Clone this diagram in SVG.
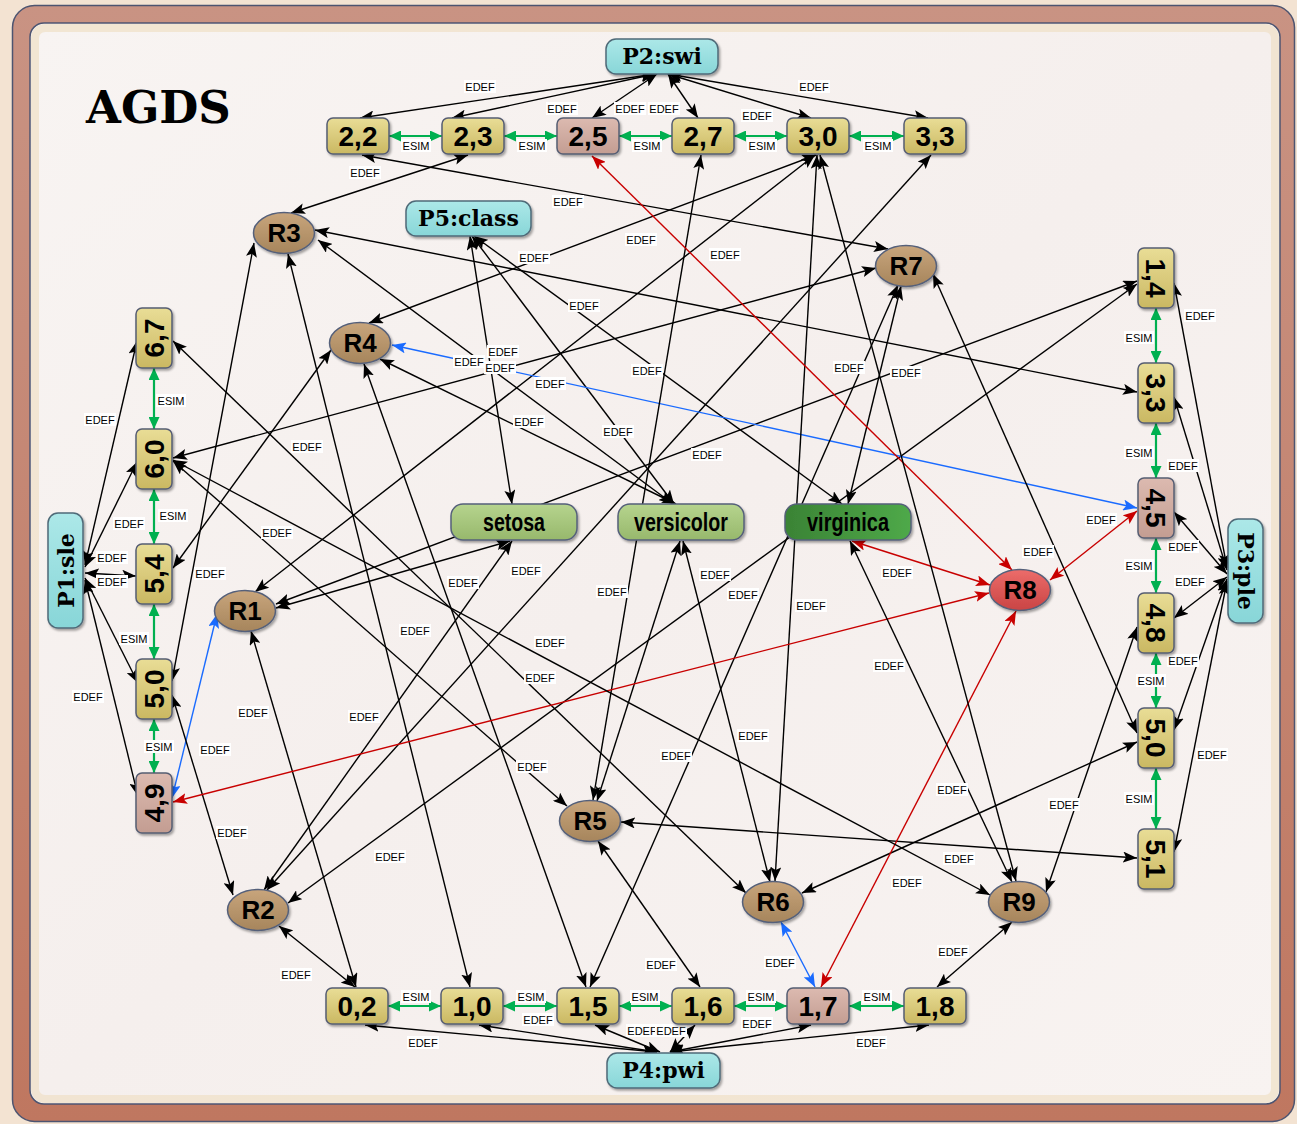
<svg xmlns="http://www.w3.org/2000/svg" width="1297" height="1124" viewBox="0 0 1297 1124">
<defs>
  <linearGradient id="gVal" x1="0" y1="0" x2="0" y2="1">
    <stop offset="0" stop-color="#e9dd96"/><stop offset="1" stop-color="#cab862"/>
  </linearGradient>
  <linearGradient id="gPink" x1="0" y1="0" x2="0" y2="1">
    <stop offset="0" stop-color="#dcbab0"/><stop offset="1" stop-color="#c39d92"/>
  </linearGradient>
  <linearGradient id="gProp" x1="0" y1="0" x2="0" y2="1">
    <stop offset="0" stop-color="#ace8e8"/><stop offset="1" stop-color="#88d6d8"/>
  </linearGradient>
  <linearGradient id="gRec" x1="0" y1="0" x2="0" y2="1">
    <stop offset="0" stop-color="#c8a57c"/><stop offset="1" stop-color="#a6855c"/>
  </linearGradient>
  <linearGradient id="gRed" x1="0" y1="0" x2="0" y2="1">
    <stop offset="0" stop-color="#ec6c6a"/><stop offset="1" stop-color="#c94444"/>
  </linearGradient>
  <linearGradient id="gCls" x1="0" y1="0" x2="0" y2="1">
    <stop offset="0" stop-color="#b6d48e"/><stop offset="1" stop-color="#97b86c"/>
  </linearGradient>
  <linearGradient id="gVir" x1="0" y1="0" x2="1" y2="0">
    <stop offset="0" stop-color="#3a8335"/><stop offset="1" stop-color="#4fa949"/>
  </linearGradient>
  <linearGradient id="gBand" x1="0" y1="0" x2="0" y2="1">
    <stop offset="0" stop-color="#c99383"/><stop offset="1" stop-color="#bf7760"/>
  </linearGradient>
  <linearGradient id="gBg" x1="0" y1="0" x2="1" y2="1">
    <stop offset="0" stop-color="#f8f4f2"/><stop offset="0.5" stop-color="#f5efed"/><stop offset="1" stop-color="#f8f3f1"/>
  </linearGradient>
  <filter id="sh" x="-20%" y="-20%" width="140%" height="150%">
    <feDropShadow dx="1.5" dy="2" stdDeviation="1.2" flood-color="#000" flood-opacity="0.35"/>
  </filter>
  <marker id="mk" viewBox="0 0 14 11" refX="14" refY="5.5" markerWidth="14" markerHeight="11" markerUnits="userSpaceOnUse" orient="auto-start-reverse">
    <path d="M0,0 L14,5.5 L0,11 L3,5.5 Z" fill="#000"/>
  </marker>
  <marker id="mr" viewBox="0 0 14 11" refX="14" refY="5.5" markerWidth="14" markerHeight="11" markerUnits="userSpaceOnUse" orient="auto-start-reverse">
    <path d="M0,0 L14,5.5 L0,11 L3,5.5 Z" fill="#c80000"/>
  </marker>
  <marker id="mb" viewBox="0 0 14 11" refX="14" refY="5.5" markerWidth="14" markerHeight="11" markerUnits="userSpaceOnUse" orient="auto-start-reverse">
    <path d="M0,0 L14,5.5 L0,11 L3,5.5 Z" fill="#1a6bff"/>
  </marker>
  <marker id="mg" viewBox="0 0 12 11" refX="12" refY="5.5" markerWidth="12" markerHeight="11" markerUnits="userSpaceOnUse" orient="auto-start-reverse">
    <path d="M0,0 L12,5.5 L0,11 Z" fill="#00b050"/>
  </marker>
</defs>
<style>
  .e{fill:none;stroke:#000;stroke-width:1.4;marker-start:url(#mk);marker-end:url(#mk)}
  .er{fill:none;stroke:#c80000;stroke-width:1.4;marker-start:url(#mr);marker-end:url(#mr)}
  .eb{fill:none;stroke:#1a6bff;stroke-width:1.4;marker-start:url(#mb);marker-end:url(#mb)}
  .es{fill:none;stroke:#00b050;stroke-width:2.2;marker-start:url(#mg);marker-end:url(#mg)}
  .lb rect{fill:#fff}
  .lb text{font-family:"Liberation Sans",Arial,sans-serif;font-size:11px;text-anchor:middle;fill:#000}
  .val rect{fill:url(#gVal);stroke:#565d72;stroke-width:1.5;filter:url(#sh)}
  .val.pink rect{fill:url(#gPink)}
  .num{font-family:"Liberation Sans",Arial,sans-serif;font-weight:bold;font-size:28px;text-anchor:middle;fill:#000}
  .prop rect{fill:url(#gProp);stroke:#4f6a78;stroke-width:1.5;filter:url(#sh)}
  .pt{font-family:"DejaVu Serif",serif;font-weight:bold;font-size:22px;text-anchor:middle;fill:#000}
  .rec ellipse{fill:url(#gRec);stroke:#55607a;stroke-width:1.5;filter:url(#sh)}
  .rec.hot ellipse{fill:url(#gRed)}
  .rt{font-family:"Liberation Sans",Arial,sans-serif;font-weight:bold;font-size:26px;text-anchor:middle;fill:#000}
  .cls rect{fill:url(#gCls);stroke:#55607a;stroke-width:1.5;filter:url(#sh)}
  .cls.dark rect{fill:url(#gVir)}
  .ct{font-family:"Liberation Sans Narrow","Liberation Sans",Arial,sans-serif;font-weight:bold;font-size:26px;text-anchor:middle;fill:#000}
</style>

<!-- frame -->
<g id="frame">
  <rect x="0" y="0" width="1297" height="1124" fill="#f3e3d2"/>
  <rect x="12.5" y="5.5" width="1282" height="1116" rx="22" fill="url(#gBand)" stroke="#4d5470" stroke-width="1.5"/>
  <rect x="30" y="23" width="1250" height="1081" rx="14" fill="url(#gBg)" stroke="#4d5470" stroke-width="1.5"/>
  <rect x="35" y="28" width="1240" height="1071" rx="10" fill="none" stroke="#f0dfc6" stroke-width="8" opacity="0.7"/>
</g>

<g id="title">
  <text x="86" y="123" font-family="'DejaVu Serif',serif" font-weight="bold" font-size="45" fill="#000">AGDS</text>
</g>

<!-- connectors -->
<g id="connectors">
  <!-- attribute to value -->
  <path class="e" d="M655,74 L360,118"/>
  <path class="e" d="M655,74 L452,118"/>
  <path class="e" d="M657,74 L592,118"/>
  <path class="e" d="M668,74 L698,118"/>
  <path class="e" d="M668,74 L811,118"/>
  <path class="e" d="M668,74 L928,118"/>
  <path class="e" d="M657,1052 L365,1025"/>
  <path class="e" d="M657,1052 L479,1025"/>
  <path class="e" d="M660,1052 L595,1025"/>
  <path class="e" d="M670,1052 L695,1025"/>
  <path class="e" d="M670,1052 L811,1025"/>
  <path class="e" d="M670,1052 L929,1025"/>
  <path class="e" d="M85,565 L137,341"/>
  <path class="e" d="M85,567 L137,462"/>
  <path class="e" d="M85,573 L136,576"/>
  <path class="e" d="M85,578 L138,683"/>
  <path class="e" d="M85,580 L138,796"/>
  <path class="e" d="M1227,568 L1174,283"/>
  <path class="e" d="M1227,570 L1174,397"/>
  <path class="e" d="M1227,574 L1174,512"/>
  <path class="e" d="M1227,577 L1174,618"/>
  <path class="e" d="M1227,579 L1174,730"/>
  <path class="e" d="M1227,581 L1174,852"/>
  <path class="e" d="M470,236 L512,504"/>
  <path class="e" d="M472,236 L674,504"/>
  <path class="e" d="M474,236 L842,504"/>

  <!-- R1 -->
  <path class="eb" d="M217,614 L172,798"/>
  <path class="e" d="M255,592 L815,155"/>
  <path class="e" d="M276,604 L1137,281"/>
  <path class="e" d="M251,631 L356,987"/>
  <path class="e" d="M276,608 L510,541"/>
  <!-- R2 -->
  <path class="e" d="M233,895 L172,695"/>
  <path class="e" d="M267,890 L931,155"/>
  <path class="e" d="M288,903 L1137,284"/>
  <path class="e" d="M264,890 L512,541"/>
  <path class="e" d="M279,926 L355,987"/>
  <!-- R3 -->
  <path class="e" d="M291,213 L468,155"/>
  <path class="e" d="M254,243 L172,681"/>
  <path class="e" d="M288,254 L470,987"/>
  <path class="e" d="M315,230 L1137,392"/>
  <path class="e" d="M318,240 L673,504"/>
  <!-- R4 -->
  <path class="e" d="M331,350 L173,568"/>
  <path class="e" d="M369,323 L816,155"/>
  <path class="e" d="M364,364 L586,987"/>
  <path class="eb" d="M392,345 L1137,508"/>
  <path class="e" d="M380,359 L676,504"/>
  <!-- R5 -->
  <path class="e" d="M567,806 L173,461"/>
  <path class="e" d="M593,800 L701,155"/>
  <path class="e" d="M597,801 L680,541"/>
  <path class="e" d="M621,822 L1137,858"/>
  <path class="e" d="M598,841 L700,987"/>
  <!-- R6 -->
  <path class="e" d="M746,893 L173,341"/>
  <path class="e" d="M775,881 L817,155"/>
  <path class="e" d="M770,882 L683,541"/>
  <path class="e" d="M802,893 L1137,742"/>
  <path class="eb" d="M781,922 L815,987"/>
  <!-- R7 -->
  <path class="e" d="M888,249 L362,155"/>
  <path class="e" d="M876,268 L173,458"/>
  <path class="e" d="M901,286 L848,504"/>
  <path class="e" d="M898,285 L590,987"/>
  <path class="e" d="M933,274 L1137,733"/>
  <!-- R8 -->
  <path class="er" d="M1012,570 L592,156"/>
  <path class="er" d="M989,593 L173,802"/>
  <path class="er" d="M990,585 L852,541"/>
  <path class="er" d="M1050,580 L1137,511"/>
  <path class="er" d="M1016,611 L821,987"/>
  <!-- R9 -->
  <path class="e" d="M990,895 L173,460"/>
  <path class="e" d="M1016,881 L820,155"/>
  <path class="e" d="M1012,882 L850,541"/>
  <path class="e" d="M1046,892 L1137,627"/>
  <path class="e" d="M1012,922 L937,987"/>

  <!-- similarity links -->
  <path class="es" d="M389,136 L442,136"/>
  <path class="es" d="M504,136 L557,136"/>
  <path class="es" d="M619,136 L672,136"/>
  <path class="es" d="M734,136 L787,136"/>
  <path class="es" d="M849,136 L904,136"/>
  <path class="es" d="M388,1006 L441,1006"/>
  <path class="es" d="M503,1006 L557,1006"/>
  <path class="es" d="M619,1006 L672,1006"/>
  <path class="es" d="M734,1006 L787,1006"/>
  <path class="es" d="M849,1006 L904,1006"/>
  <path class="es" d="M154,368 L154,429"/>
  <path class="es" d="M154,489 L154,544"/>
  <path class="es" d="M154,604 L154,659"/>
  <path class="es" d="M154,719 L154,773"/>
  <path class="es" d="M1156,308 L1156,363"/>
  <path class="es" d="M1156,423 L1156,478"/>
  <path class="es" d="M1156,538 L1156,593"/>
  <path class="es" d="M1156,653 L1156,708"/>
  <path class="es" d="M1156,768 L1156,829"/>

  <!-- labels -->
  <g class="lb">
    <g transform="translate(416,146)"><rect x="-15" y="-7" width="30" height="13"/><text y="4">ESIM</text></g>
    <g transform="translate(532,146)"><rect x="-15" y="-7" width="30" height="13"/><text y="4">ESIM</text></g>
    <g transform="translate(647,146)"><rect x="-15" y="-7" width="30" height="13"/><text y="4">ESIM</text></g>
    <g transform="translate(762,146)"><rect x="-15" y="-7" width="30" height="13"/><text y="4">ESIM</text></g>
    <g transform="translate(878,146)"><rect x="-15" y="-7" width="30" height="13"/><text y="4">ESIM</text></g>
    <g transform="translate(416,997)"><rect x="-15" y="-7" width="30" height="13"/><text y="4">ESIM</text></g>
    <g transform="translate(531,997)"><rect x="-15" y="-7" width="30" height="13"/><text y="4">ESIM</text></g>
    <g transform="translate(645,997)"><rect x="-15" y="-7" width="30" height="13"/><text y="4">ESIM</text></g>
    <g transform="translate(761,997)"><rect x="-15" y="-7" width="30" height="13"/><text y="4">ESIM</text></g>
    <g transform="translate(877,997)"><rect x="-15" y="-7" width="30" height="13"/><text y="4">ESIM</text></g>
    <g transform="translate(171,401)"><rect x="-15" y="-7" width="30" height="13"/><text y="4">ESIM</text></g>
    <g transform="translate(173,516)"><rect x="-15" y="-7" width="30" height="13"/><text y="4">ESIM</text></g>
    <g transform="translate(134,639)"><rect x="-15" y="-7" width="30" height="13"/><text y="4">ESIM</text></g>
    <g transform="translate(159,747)"><rect x="-15" y="-7" width="30" height="13"/><text y="4">ESIM</text></g>
    <g transform="translate(1139,338)"><rect x="-15" y="-7" width="30" height="13"/><text y="4">ESIM</text></g>
    <g transform="translate(1139,453)"><rect x="-15" y="-7" width="30" height="13"/><text y="4">ESIM</text></g>
    <g transform="translate(1139,566)"><rect x="-15" y="-7" width="30" height="13"/><text y="4">ESIM</text></g>
    <g transform="translate(1151,681)"><rect x="-15" y="-7" width="30" height="13"/><text y="4">ESIM</text></g>
    <g transform="translate(1139,799)"><rect x="-15" y="-7" width="30" height="13"/><text y="4">ESIM</text></g>

    <g transform="translate(480,87)"><rect x="-16" y="-7" width="32" height="13"/><text y="4">EDEF</text></g>
    <g transform="translate(814,87)"><rect x="-16" y="-7" width="32" height="13"/><text y="4">EDEF</text></g>
    <g transform="translate(562,109)"><rect x="-16" y="-7" width="32" height="13"/><text y="4">EDEF</text></g>
    <g transform="translate(630,109)"><rect x="-16" y="-7" width="32" height="13"/><text y="4">EDEF</text></g>
    <g transform="translate(664,109)"><rect x="-16" y="-7" width="32" height="13"/><text y="4">EDEF</text></g>
    <g transform="translate(757,116)"><rect x="-16" y="-7" width="32" height="13"/><text y="4">EDEF</text></g>
    <g transform="translate(365,173)"><rect x="-16" y="-7" width="32" height="13"/><text y="4">EDEF</text></g>
    <g transform="translate(568,202)"><rect x="-16" y="-7" width="32" height="13"/><text y="4">EDEF</text></g>
    <g transform="translate(641,240)"><rect x="-16" y="-7" width="32" height="13"/><text y="4">EDEF</text></g>
    <g transform="translate(725,255)"><rect x="-16" y="-7" width="32" height="13"/><text y="4">EDEF</text></g>
    <g transform="translate(534,258)"><rect x="-16" y="-7" width="32" height="13"/><text y="4">EDEF</text></g>
    <g transform="translate(584,306)"><rect x="-16" y="-7" width="32" height="13"/><text y="4">EDEF</text></g>
    <g transform="translate(503,352)"><rect x="-16" y="-7" width="32" height="13"/><text y="4">EDEF</text></g>
    <g transform="translate(469,362)"><rect x="-16" y="-7" width="32" height="13"/><text y="4">EDEF</text></g>
    <g transform="translate(500,368)"><rect x="-16" y="-7" width="32" height="13"/><text y="4">EDEF</text></g>
    <g transform="translate(550,384)"><rect x="-16" y="-7" width="32" height="13"/><text y="4">EDEF</text></g>
    <g transform="translate(647,371)"><rect x="-16" y="-7" width="32" height="13"/><text y="4">EDEF</text></g>
    <g transform="translate(849,368)"><rect x="-16" y="-7" width="32" height="13"/><text y="4">EDEF</text></g>
    <g transform="translate(906,373)"><rect x="-16" y="-7" width="32" height="13"/><text y="4">EDEF</text></g>
    <g transform="translate(529,422)"><rect x="-16" y="-7" width="32" height="13"/><text y="4">EDEF</text></g>
    <g transform="translate(618,432)"><rect x="-16" y="-7" width="32" height="13"/><text y="4">EDEF</text></g>
    <g transform="translate(707,455)"><rect x="-16" y="-7" width="32" height="13"/><text y="4">EDEF</text></g>
    <g transform="translate(307,447)"><rect x="-16" y="-7" width="32" height="13"/><text y="4">EDEF</text></g>
    <g transform="translate(100,420)"><rect x="-16" y="-7" width="32" height="13"/><text y="4">EDEF</text></g>
    <g transform="translate(129,524)"><rect x="-16" y="-7" width="32" height="13"/><text y="4">EDEF</text></g>
    <g transform="translate(112,558)"><rect x="-16" y="-7" width="32" height="13"/><text y="4">EDEF</text></g>
    <g transform="translate(112,582)"><rect x="-16" y="-7" width="32" height="13"/><text y="4">EDEF</text></g>
    <g transform="translate(277,533)"><rect x="-16" y="-7" width="32" height="13"/><text y="4">EDEF</text></g>
    <g transform="translate(210,574)"><rect x="-16" y="-7" width="32" height="13"/><text y="4">EDEF</text></g>
    <g transform="translate(88,697)"><rect x="-16" y="-7" width="32" height="13"/><text y="4">EDEF</text></g>
    <g transform="translate(463,583)"><rect x="-16" y="-7" width="32" height="13"/><text y="4">EDEF</text></g>
    <g transform="translate(526,571)"><rect x="-16" y="-7" width="32" height="13"/><text y="4">EDEF</text></g>
    <g transform="translate(612,592)"><rect x="-16" y="-7" width="32" height="13"/><text y="4">EDEF</text></g>
    <g transform="translate(715,575)"><rect x="-16" y="-7" width="32" height="13"/><text y="4">EDEF</text></g>
    <g transform="translate(743,595)"><rect x="-16" y="-7" width="32" height="13"/><text y="4">EDEF</text></g>
    <g transform="translate(811,606)"><rect x="-16" y="-7" width="32" height="13"/><text y="4">EDEF</text></g>
    <g transform="translate(897,573)"><rect x="-16" y="-7" width="32" height="13"/><text y="4">EDEF</text></g>
    <g transform="translate(1038,552)"><rect x="-16" y="-7" width="32" height="13"/><text y="4">EDEF</text></g>
    <g transform="translate(1101,520)"><rect x="-16" y="-7" width="32" height="13"/><text y="4">EDEF</text></g>
    <g transform="translate(1200,316)"><rect x="-16" y="-7" width="32" height="13"/><text y="4">EDEF</text></g>
    <g transform="translate(1183,466)"><rect x="-16" y="-7" width="32" height="13"/><text y="4">EDEF</text></g>
    <g transform="translate(1183,547)"><rect x="-16" y="-7" width="32" height="13"/><text y="4">EDEF</text></g>
    <g transform="translate(1190,582)"><rect x="-16" y="-7" width="32" height="13"/><text y="4">EDEF</text></g>
    <g transform="translate(1183,661)"><rect x="-16" y="-7" width="32" height="13"/><text y="4">EDEF</text></g>
    <g transform="translate(1212,755)"><rect x="-16" y="-7" width="32" height="13"/><text y="4">EDEF</text></g>
    <g transform="translate(415,631)"><rect x="-16" y="-7" width="32" height="13"/><text y="4">EDEF</text></g>
    <g transform="translate(550,643)"><rect x="-16" y="-7" width="32" height="13"/><text y="4">EDEF</text></g>
    <g transform="translate(540,678)"><rect x="-16" y="-7" width="32" height="13"/><text y="4">EDEF</text></g>
    <g transform="translate(889,666)"><rect x="-16" y="-7" width="32" height="13"/><text y="4">EDEF</text></g>
    <g transform="translate(253,713)"><rect x="-16" y="-7" width="32" height="13"/><text y="4">EDEF</text></g>
    <g transform="translate(364,717)"><rect x="-16" y="-7" width="32" height="13"/><text y="4">EDEF</text></g>
    <g transform="translate(215,750)"><rect x="-16" y="-7" width="32" height="13"/><text y="4">EDEF</text></g>
    <g transform="translate(676,756)"><rect x="-16" y="-7" width="32" height="13"/><text y="4">EDEF</text></g>
    <g transform="translate(753,736)"><rect x="-16" y="-7" width="32" height="13"/><text y="4">EDEF</text></g>
    <g transform="translate(532,767)"><rect x="-16" y="-7" width="32" height="13"/><text y="4">EDEF</text></g>
    <g transform="translate(952,790)"><rect x="-16" y="-7" width="32" height="13"/><text y="4">EDEF</text></g>
    <g transform="translate(1064,805)"><rect x="-16" y="-7" width="32" height="13"/><text y="4">EDEF</text></g>
    <g transform="translate(232,833)"><rect x="-16" y="-7" width="32" height="13"/><text y="4">EDEF</text></g>
    <g transform="translate(390,857)"><rect x="-16" y="-7" width="32" height="13"/><text y="4">EDEF</text></g>
    <g transform="translate(959,859)"><rect x="-16" y="-7" width="32" height="13"/><text y="4">EDEF</text></g>
    <g transform="translate(907,883)"><rect x="-16" y="-7" width="32" height="13"/><text y="4">EDEF</text></g>
    <g transform="translate(296,975)"><rect x="-16" y="-7" width="32" height="13"/><text y="4">EDEF</text></g>
    <g transform="translate(661,965)"><rect x="-16" y="-7" width="32" height="13"/><text y="4">EDEF</text></g>
    <g transform="translate(780,963)"><rect x="-16" y="-7" width="32" height="13"/><text y="4">EDEF</text></g>
    <g transform="translate(953,952)"><rect x="-16" y="-7" width="32" height="13"/><text y="4">EDEF</text></g>
    <g transform="translate(538,1020)"><rect x="-16" y="-7" width="32" height="13"/><text y="4">EDEF</text></g>
    <g transform="translate(642,1031)"><rect x="-16" y="-7" width="32" height="13"/><text y="4">EDEF</text></g>
    <g transform="translate(671,1031)"><rect x="-16" y="-7" width="32" height="13"/><text y="4">EDEF</text></g>
    <g transform="translate(757,1024)"><rect x="-16" y="-7" width="32" height="13"/><text y="4">EDEF</text></g>
    <g transform="translate(423,1043)"><rect x="-16" y="-7" width="32" height="13"/><text y="4">EDEF</text></g>
    <g transform="translate(871,1043)"><rect x="-16" y="-7" width="32" height="13"/><text y="4">EDEF</text></g>
  </g>
</g>

<!-- attribute nodes -->
<g id="P1-sle" class="prop"><rect x="48" y="513" width="35" height="115" rx="10"/><text class="pt" transform="translate(65.5,570.5) rotate(-90)" y="8">P1:sle</text></g>
<g id="P2-swi" class="prop"><rect x="606" y="39" width="112" height="35" rx="10"/><text class="pt" x="662" y="64">P2:swi</text></g>
<g id="P3-ple" class="prop"><rect x="1228" y="519" width="35" height="104" rx="10"/><text class="pt" transform="translate(1245.5,571) rotate(90)" y="8">P3:ple</text></g>
<g id="P4-pwi" class="prop"><rect x="607" y="1053" width="113" height="35" rx="10"/><text class="pt" x="663.5" y="1078">P4:pwi</text></g>
<g id="P5-class" class="prop"><rect x="406" y="201" width="125" height="35" rx="10"/><text class="pt" x="468.5" y="226">P5:class</text></g>

<!-- sepal width values -->
<g id="swi-2.2" class="val"><rect x="327" y="118" width="62" height="36" rx="6"/><text class="num" x="358" y="146">2,2</text></g>
<g id="swi-2.3" class="val"><rect x="442" y="118" width="62" height="36" rx="6"/><text class="num" x="473" y="146">2,3</text></g>
<g id="swi-2.5" class="val pink"><rect x="557" y="118" width="62" height="36" rx="6"/><text class="num" x="588" y="146">2,5</text></g>
<g id="swi-2.7" class="val"><rect x="672" y="118" width="62" height="36" rx="6"/><text class="num" x="703" y="146">2,7</text></g>
<g id="swi-3.0" class="val"><rect x="787" y="118" width="62" height="36" rx="6"/><text class="num" x="818" y="146">3,0</text></g>
<g id="swi-3.3" class="val"><rect x="904" y="118" width="62" height="36" rx="6"/><text class="num" x="935" y="146">3,3</text></g>

<!-- petal width values -->
<g id="pwi-0.2" class="val"><rect x="326" y="988" width="62" height="36" rx="6"/><text class="num" x="357" y="1016">0,2</text></g>
<g id="pwi-1.0" class="val"><rect x="441" y="988" width="62" height="36" rx="6"/><text class="num" x="472" y="1016">1,0</text></g>
<g id="pwi-1.5" class="val"><rect x="557" y="988" width="62" height="36" rx="6"/><text class="num" x="588" y="1016">1,5</text></g>
<g id="pwi-1.6" class="val"><rect x="672" y="988" width="62" height="36" rx="6"/><text class="num" x="703" y="1016">1,6</text></g>
<g id="pwi-1.7" class="val pink"><rect x="787" y="988" width="62" height="36" rx="6"/><text class="num" x="818" y="1016">1,7</text></g>
<g id="pwi-1.8" class="val"><rect x="904" y="988" width="62" height="36" rx="6"/><text class="num" x="935" y="1016">1,8</text></g>

<!-- sepal length values -->
<g id="sle-6.7" class="val"><rect x="136" y="308" width="36" height="60" rx="6"/><text class="num" transform="translate(154,338) rotate(-90)" y="10">6,7</text></g>
<g id="sle-6.0" class="val"><rect x="136" y="429" width="36" height="60" rx="6"/><text class="num" transform="translate(154,459) rotate(-90)" y="10">6,0</text></g>
<g id="sle-5.4" class="val"><rect x="136" y="544" width="36" height="60" rx="6"/><text class="num" transform="translate(154,574) rotate(-90)" y="10">5,4</text></g>
<g id="sle-5.0" class="val"><rect x="136" y="659" width="36" height="60" rx="6"/><text class="num" transform="translate(154,689) rotate(-90)" y="10">5,0</text></g>
<g id="sle-4.9" class="val pink"><rect x="136" y="773" width="36" height="60" rx="6"/><text class="num" transform="translate(154,803) rotate(-90)" y="10">4,9</text></g>

<!-- petal length values -->
<g id="ple-1.4" class="val"><rect x="1138" y="248" width="36" height="60" rx="6"/><text class="num" transform="translate(1156,278) rotate(90)" y="10">1,4</text></g>
<g id="ple-3.3" class="val"><rect x="1138" y="363" width="36" height="60" rx="6"/><text class="num" transform="translate(1156,393) rotate(90)" y="10">3,3</text></g>
<g id="ple-4.5" class="val pink"><rect x="1138" y="478" width="36" height="60" rx="6"/><text class="num" transform="translate(1156,508) rotate(90)" y="10">4,5</text></g>
<g id="ple-4.8" class="val"><rect x="1138" y="593" width="36" height="60" rx="6"/><text class="num" transform="translate(1156,623) rotate(90)" y="10">4,8</text></g>
<g id="ple-5.0" class="val"><rect x="1138" y="708" width="36" height="60" rx="6"/><text class="num" transform="translate(1156,738) rotate(90)" y="10">5,0</text></g>
<g id="ple-5.1" class="val"><rect x="1138" y="829" width="36" height="60" rx="6"/><text class="num" transform="translate(1156,859) rotate(90)" y="10">5,1</text></g>

<!-- class values -->
<g id="cls-setosa" class="cls"><rect x="451" y="504" width="126" height="36" rx="12"/><text class="ct" x="514" y="531" textLength="62" lengthAdjust="spacingAndGlyphs">setosa</text></g>
<g id="cls-versicolor" class="cls"><rect x="618" y="504" width="126" height="36" rx="12"/><text class="ct" x="681" y="531" textLength="94" lengthAdjust="spacingAndGlyphs">versicolor</text></g>
<g id="cls-virginica" class="cls dark"><rect x="785" y="504" width="126" height="36" rx="12"/><text class="ct" x="848" y="531" textLength="82" lengthAdjust="spacingAndGlyphs">virginica</text></g>

<!-- records -->
<g id="R1" class="rec"><ellipse cx="245" cy="611" rx="30.5" ry="20.5"/><text class="rt" x="245" y="620">R1</text></g>
<g id="R2" class="rec"><ellipse cx="258" cy="910" rx="30.5" ry="20.5"/><text class="rt" x="258" y="919">R2</text></g>
<g id="R3" class="rec"><ellipse cx="284" cy="233" rx="30.5" ry="20.5"/><text class="rt" x="284" y="242">R3</text></g>
<g id="R4" class="rec"><ellipse cx="360" cy="343" rx="30.5" ry="20.5"/><text class="rt" x="360" y="352">R4</text></g>
<g id="R5" class="rec"><ellipse cx="590" cy="821" rx="30.5" ry="20.5"/><text class="rt" x="590" y="830">R5</text></g>
<g id="R6" class="rec"><ellipse cx="773" cy="902" rx="30.5" ry="20.5"/><text class="rt" x="773" y="911">R6</text></g>
<g id="R7" class="rec"><ellipse cx="906" cy="266" rx="30.5" ry="20.5"/><text class="rt" x="906" y="275">R7</text></g>
<g id="R8" class="rec hot"><ellipse cx="1020" cy="590" rx="30.5" ry="20.5"/><text class="rt" x="1020" y="599">R8</text></g>
<g id="R9" class="rec"><ellipse cx="1019" cy="902" rx="30.5" ry="20.5"/><text class="rt" x="1019" y="911">R9</text></g>
</svg>
